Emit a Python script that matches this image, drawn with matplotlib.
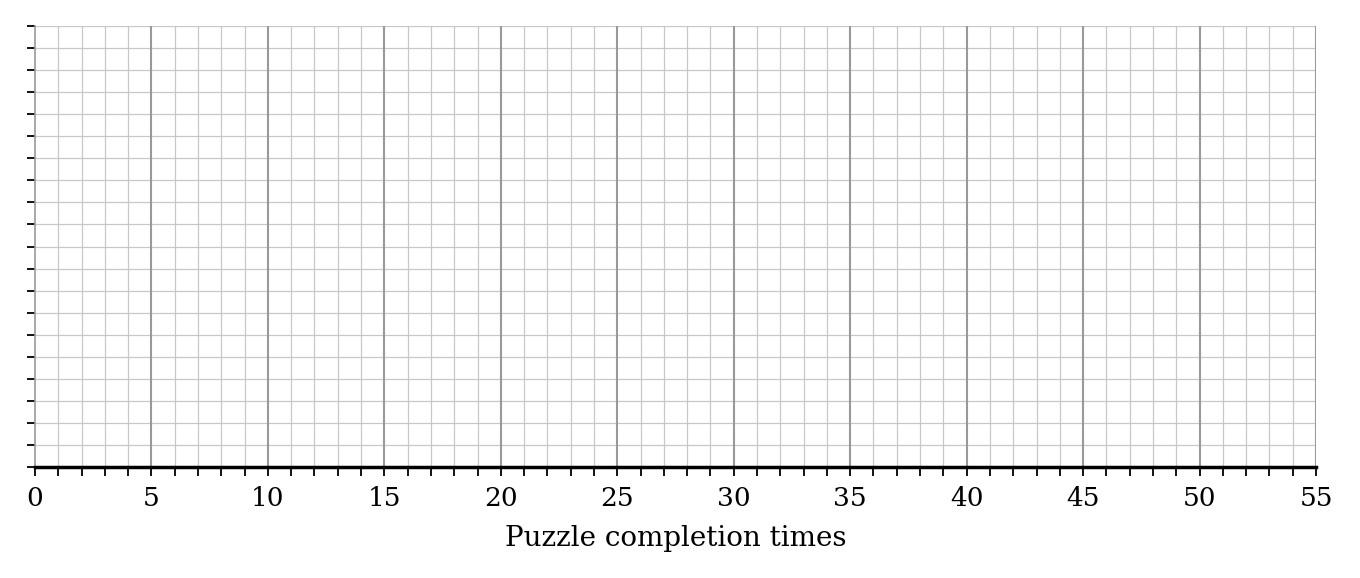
import matplotlib
matplotlib.use("Agg")
import matplotlib.pyplot as plt
import numpy as np

# Data (the reference shows an empty dot-plot grid)
completion_times = []          # no dots plotted
x_min, x_max = 0, 55
y_min, y_max = 0, 20
major_labels = [0, 5, 10, 15, 20, 25, 30, 35, 40, 45, 50, 55]
x_label = "Puzzle completion times"

plt.rcParams['font.family'] = ['DejaVu Serif']

fig = plt.figure(figsize=(13.6, 5.78), dpi=100)
ax = fig.add_axes([35/1360, 1 - 467/578, (1316-35)/1360, (467-26)/578])

ax.set_xlim(x_min, x_max)
ax.set_ylim(y_min, y_max)

# grid lines
minor_x = np.arange(x_min, x_max + 1, 1)
for x in minor_x:
    if x in major_labels:
        continue
    ax.axvline(x, color='#c8c8c8', lw=0.9, zorder=1)
for x in major_labels:
    if x in (x_min,):
        continue
    ax.axvline(x, color='#999999', lw=1.5, zorder=2)
for y in np.arange(y_min + 1, y_max + 1, 1):
    ax.axhline(y, color='#c8c8c8', lw=0.9, zorder=1)

if completion_times:
    ax.plot(completion_times, np.ones(len(completion_times)), 'o')

ax.set_xticks(minor_x)
ax.set_xticklabels([str(int(v)) if v in major_labels else '' for v in minor_x],
                   fontsize=19)
ax.set_yticks(np.arange(y_min, y_max + 1, 1))
ax.set_yticklabels([])

ax.tick_params(axis='x', direction='out', length=6.5, width=1.3, color='black', pad=7)
ax.tick_params(axis='y', direction='out', length=6, width=1.3, color='black')

for s in ('top', 'right'):
    ax.spines[s].set_visible(False)
ax.spines['left'].set_color('#999999')
ax.spines['left'].set_linewidth(1.2)
ax.spines['bottom'].set_color('black')
ax.spines['bottom'].set_linewidth(2.5)
ax.spines['bottom'].set_zorder(5)

ax.set_xlabel(x_label, fontsize=20, labelpad=10)

fig.savefig("out.png", dpi=100)
